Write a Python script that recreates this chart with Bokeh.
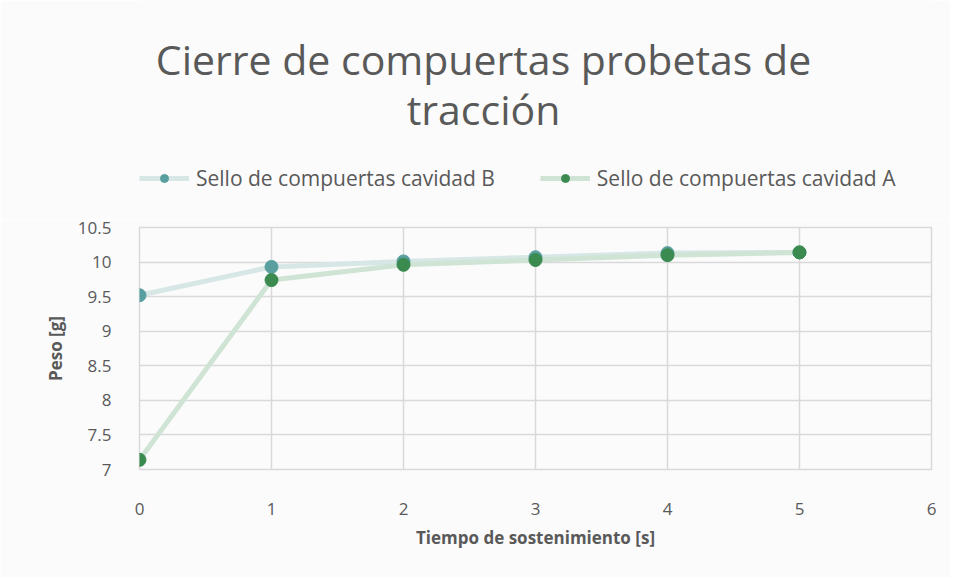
from bokeh.plotting import figure
from bokeh.layouts import column
from bokeh.models import Label, Legend, LegendItem, FixedTicker
from bokeh.embed import file_html
from bokeh.resources import INLINE

x_vals = [0, 1, 2, 3, 4, 5]
serie_b = [9.52, 9.93, 10.01, 10.07, 10.13, 10.14]
serie_a = [7.14, 9.74, 9.96, 10.03, 10.10, 10.14]
y_ticks = [7, 7.5, 8, 8.5, 9, 9.5, 10, 10.5]
x_ticks = [0, 1, 2, 3, 4, 5, 6]
name_b = "Sello de compuertas cavidad B"
name_a = "Sello de compuertas cavidad A"
title_1 = "Cierre de compuertas probetas de"
title_2 = "tracción"

FONT = "Open Sans"
GRAY = "#595959"
GRID = "#d9d9d9"
BG = "#fbfbfb"
COL_LINE_B, COL_PT_B = "#d7e7e6", "#5a9fa0"
COL_LINE_A, COL_PT_A = "#cfe4d4", "#3b8a50"

W = 950
TOP_H = 219
BOT_H = 358
FRAME_LEFT = 139   # the header's frame is aligned with the chart's frame

# ---------- header: title + legend ----------
head = figure(width=W, height=TOP_H, output_backend="svg", toolbar_location=None,
              x_range=(100, 101), y_range=(100, 101), x_axis_type=None, y_axis_type=None,
              min_border_left=0, min_border_right=0, min_border_top=0, min_border_bottom=0)
head.background_fill_color = BG
head.border_fill_color = BG
head.outline_line_color = None
head.xgrid.grid_line_color = None
head.ygrid.grid_line_color = None

hl_b = head.line(x_vals, serie_b, line_color=COL_LINE_B, line_width=5)
hp_b = head.scatter(x_vals, serie_b, size=13, fill_color=COL_PT_B, line_color=COL_PT_B)
hl_a = head.line(x_vals, serie_a, line_color=COL_LINE_A, line_width=5)
hp_a = head.scatter(x_vals, serie_a, size=13, fill_color=COL_PT_A, line_color=COL_PT_A)

for t, cy in [(title_1, 58), (title_2, 108)]:
    head.add_layout(Label(x=483 - FRAME_LEFT, y=TOP_H - cy, x_units="screen", y_units="screen",
                          text=t, text_font=FONT, text_font_size="41px", text_color=GRAY,
                          text_align="center", text_baseline="middle"))

legend = Legend(items=[LegendItem(label=name_b, renderers=[hl_b, hp_b]),
                       LegendItem(label=name_a, renderers=[hl_a, hp_a])],
                orientation="horizontal", location=(0, TOP_H - 176 - 16),
                background_fill_alpha=0, border_line_color=None, padding=6,
                label_text_font=FONT, label_text_font_size="21px", label_text_color=GRAY,
                glyph_width=50, glyph_height=20, spacing=45, label_standoff=7)
head.add_layout(legend)

# ---------- chart ----------
p = figure(width=W, height=BOT_H, output_backend="svg", toolbar_location=None,
           x_range=(x_ticks[0], x_ticks[-1]), y_range=(y_ticks[0], y_ticks[-1]),
           min_border_left=FRAME_LEFT, min_border_right=19, min_border_top=8, min_border_bottom=108)
p.background_fill_color = BG
p.border_fill_color = BG
p.outline_line_color = GRID
p.outline_line_width = 1.5

p.line(x_vals, serie_b, line_color=COL_LINE_B, line_width=5)
p.line(x_vals, serie_a, line_color=COL_LINE_A, line_width=5)
p.scatter(x_vals, serie_b, size=13, fill_color=COL_PT_B, line_color=COL_PT_B)
p.scatter(x_vals, serie_a, size=13, fill_color=COL_PT_A, line_color=COL_PT_A)

for ax in (p.xaxis[0], p.yaxis[0]):
    ax.axis_line_color = None
    ax.major_tick_line_color = None
    ax.minor_tick_line_color = None
    ax.major_label_text_font = FONT
    ax.major_label_text_font_size = "17px"
    ax.major_label_text_color = GRAY
    ax.axis_label_text_font = FONT
    ax.axis_label_text_font_size = "17px"
    ax.axis_label_text_font_style = "bold"
    ax.axis_label_text_color = GRAY

p.xaxis.ticker = FixedTicker(ticks=x_ticks)
p.yaxis.ticker = FixedTicker(ticks=y_ticks)
p.yaxis.major_label_overrides = {t: ("%g" % t) for t in y_ticks}
p.xaxis.major_label_overrides = {t: ("%g" % t) for t in x_ticks}
p.xaxis.major_label_standoff = 27
p.yaxis.major_label_standoff = 22
p.xaxis.axis_label = "Tiempo de sostenimiento [s]"
p.yaxis.axis_label = "Peso [g]"
p.xaxis.axis_label_standoff = 8
p.yaxis.axis_label_standoff = 8

p.xgrid.ticker = FixedTicker(ticks=x_ticks)
p.ygrid.ticker = FixedTicker(ticks=y_ticks)
for g in (p.xgrid[0], p.ygrid[0]):
    g.grid_line_color = GRID
    g.grid_line_width = 1.5

layout = column(head, p, spacing=0)
open("out.html", "w").write(file_html(layout, INLINE))
